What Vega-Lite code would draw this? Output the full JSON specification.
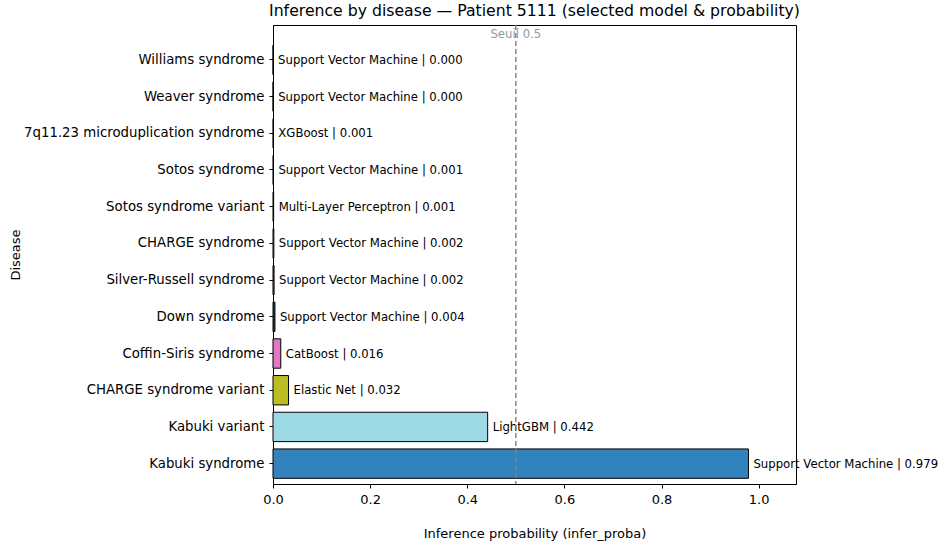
{
  "$schema": "https://vega.github.io/schema/vega-lite/v6.json",
  "autosize": {"type": "none"},
  "width": 523,
  "height": 459,
  "padding": {"left": 273, "top": 25, "right": 146, "bottom": 66},
  "background": "white",
  "config": {
    "font": "DejaVu Sans",
    "view": {"stroke": "#000000", "strokeWidth": 1},
    "axis": {"grid": false, "domainColor": "#000000", "tickColor": "#000000", "labelColor": "#000000", "titleColor": "#000000", "labelFont": "DejaVu Sans", "titleFont": "DejaVu Sans", "titleFontWeight": "normal", "labelFontSize": 13, "titleFontSize": 13, "tickSize": 4, "labelPadding": 3}
  },
  "title": {"text": "Inference by disease — Patient 5111 (selected model & probability)", "fontSize": 15.7, "fontWeight": "normal", "font": "DejaVu Sans", "color": "#000000", "anchor": "middle", "offset": 5},
  "datasets": {
    "bars": [
      {"disease": "Williams syndrome", "model": "Support Vector Machine", "proba": 0.0002, "label": "Support Vector Machine | 0.000"},
      {"disease": "Weaver syndrome", "model": "Support Vector Machine", "proba": 0.0003, "label": "Support Vector Machine | 0.000"},
      {"disease": "7q11.23 microduplication syndrome", "model": "XGBoost", "proba": 0.0007, "label": "XGBoost | 0.001"},
      {"disease": "Sotos syndrome", "model": "Support Vector Machine", "proba": 0.0009, "label": "Support Vector Machine | 0.001"},
      {"disease": "Sotos syndrome variant", "model": "Multi-Layer Perceptron", "proba": 0.0013, "label": "Multi-Layer Perceptron | 0.001"},
      {"disease": "CHARGE syndrome", "model": "Support Vector Machine", "proba": 0.0018, "label": "Support Vector Machine | 0.002"},
      {"disease": "Silver-Russell syndrome", "model": "Support Vector Machine", "proba": 0.0022, "label": "Support Vector Machine | 0.002"},
      {"disease": "Down syndrome", "model": "Support Vector Machine", "proba": 0.004, "label": "Support Vector Machine | 0.004"},
      {"disease": "Coffin-Siris syndrome", "model": "CatBoost", "proba": 0.016, "label": "CatBoost | 0.016"},
      {"disease": "CHARGE syndrome variant", "model": "Elastic Net", "proba": 0.032, "label": "Elastic Net | 0.032"},
      {"disease": "Kabuki variant", "model": "LightGBM", "proba": 0.442, "label": "LightGBM | 0.442"},
      {"disease": "Kabuki syndrome", "model": "Support Vector Machine", "proba": 0.979, "label": "Support Vector Machine | 0.979"}
    ],
    "threshold": [{"value": 0.5, "label": "Seuil 0.5"}]
  },
  "layer": [
    {
      "data": {"name": "bars"},
      "mark": {"type": "bar", "stroke": "#000000", "strokeWidth": 1},
      "encoding": {
        "y": {"field": "disease", "type": "nominal", "sort": null, "title": "Disease",
              "scale": {"paddingInner": 0.2, "paddingOuter": 0.353, "align": 0.78},
              "axis": {"titleX": -258, "titleBaseline": "middle", "labelLimit": 400, "labelFontSize": 13.3, "labelPadding": 5}},
        "x": {"field": "proba", "type": "quantitative", "title": "Inference probability (infer_proba)",
              "scale": {"domain": [0, 1.0769], "nice": false, "zero": true},
              "axis": {"values": [0, 0.2, 0.4, 0.6, 0.8, 1.0], "format": ".1f", "labelFlush": false, "labelPadding": 5, "titlePadding": 21}},
        "color": {"field": "disease", "type": "nominal", "legend": null,
                  "scale": {
                    "domain": ["Williams syndrome", "Weaver syndrome", "7q11.23 microduplication syndrome", "Sotos syndrome", "Sotos syndrome variant", "CHARGE syndrome", "Silver-Russell syndrome", "Down syndrome", "Coffin-Siris syndrome", "CHARGE syndrome variant", "Kabuki variant", "Kabuki syndrome"],
                    "range": ["#7f7f7f", "#c7c7c7", "#8c564b", "#c49c94", "#9467bd", "#c5b0d5", "#d62728", "#1f3d5c", "#e377c2", "#bcbd22", "#9edae5", "#3182bd"]
                  }}
      }
    },
    {
      "data": {"name": "bars"},
      "mark": {"type": "text", "align": "left", "baseline": "middle", "dx": 5, "fontSize": 11.7, "font": "DejaVu Sans", "color": "#000000"},
      "encoding": {
        "y": {"field": "disease", "type": "nominal", "sort": null},
        "x": {"field": "proba", "type": "quantitative"},
        "text": {"field": "label"}
      }
    },
    {
      "data": {"name": "threshold"},
      "mark": {"type": "rule", "color": "#808080", "strokeWidth": 1.4, "strokeDash": [5, 3]},
      "encoding": {"x": {"field": "value", "type": "quantitative"}}
    },
    {
      "data": {"name": "threshold"},
      "mark": {"type": "text", "align": "center", "baseline": "top", "dy": 4, "fontSize": 11.7, "font": "DejaVu Sans", "color": "#999999"},
      "encoding": {
        "x": {"field": "value", "type": "quantitative"},
        "y": {"value": 0},
        "text": {"field": "label"}
      }
    }
  ]
}
